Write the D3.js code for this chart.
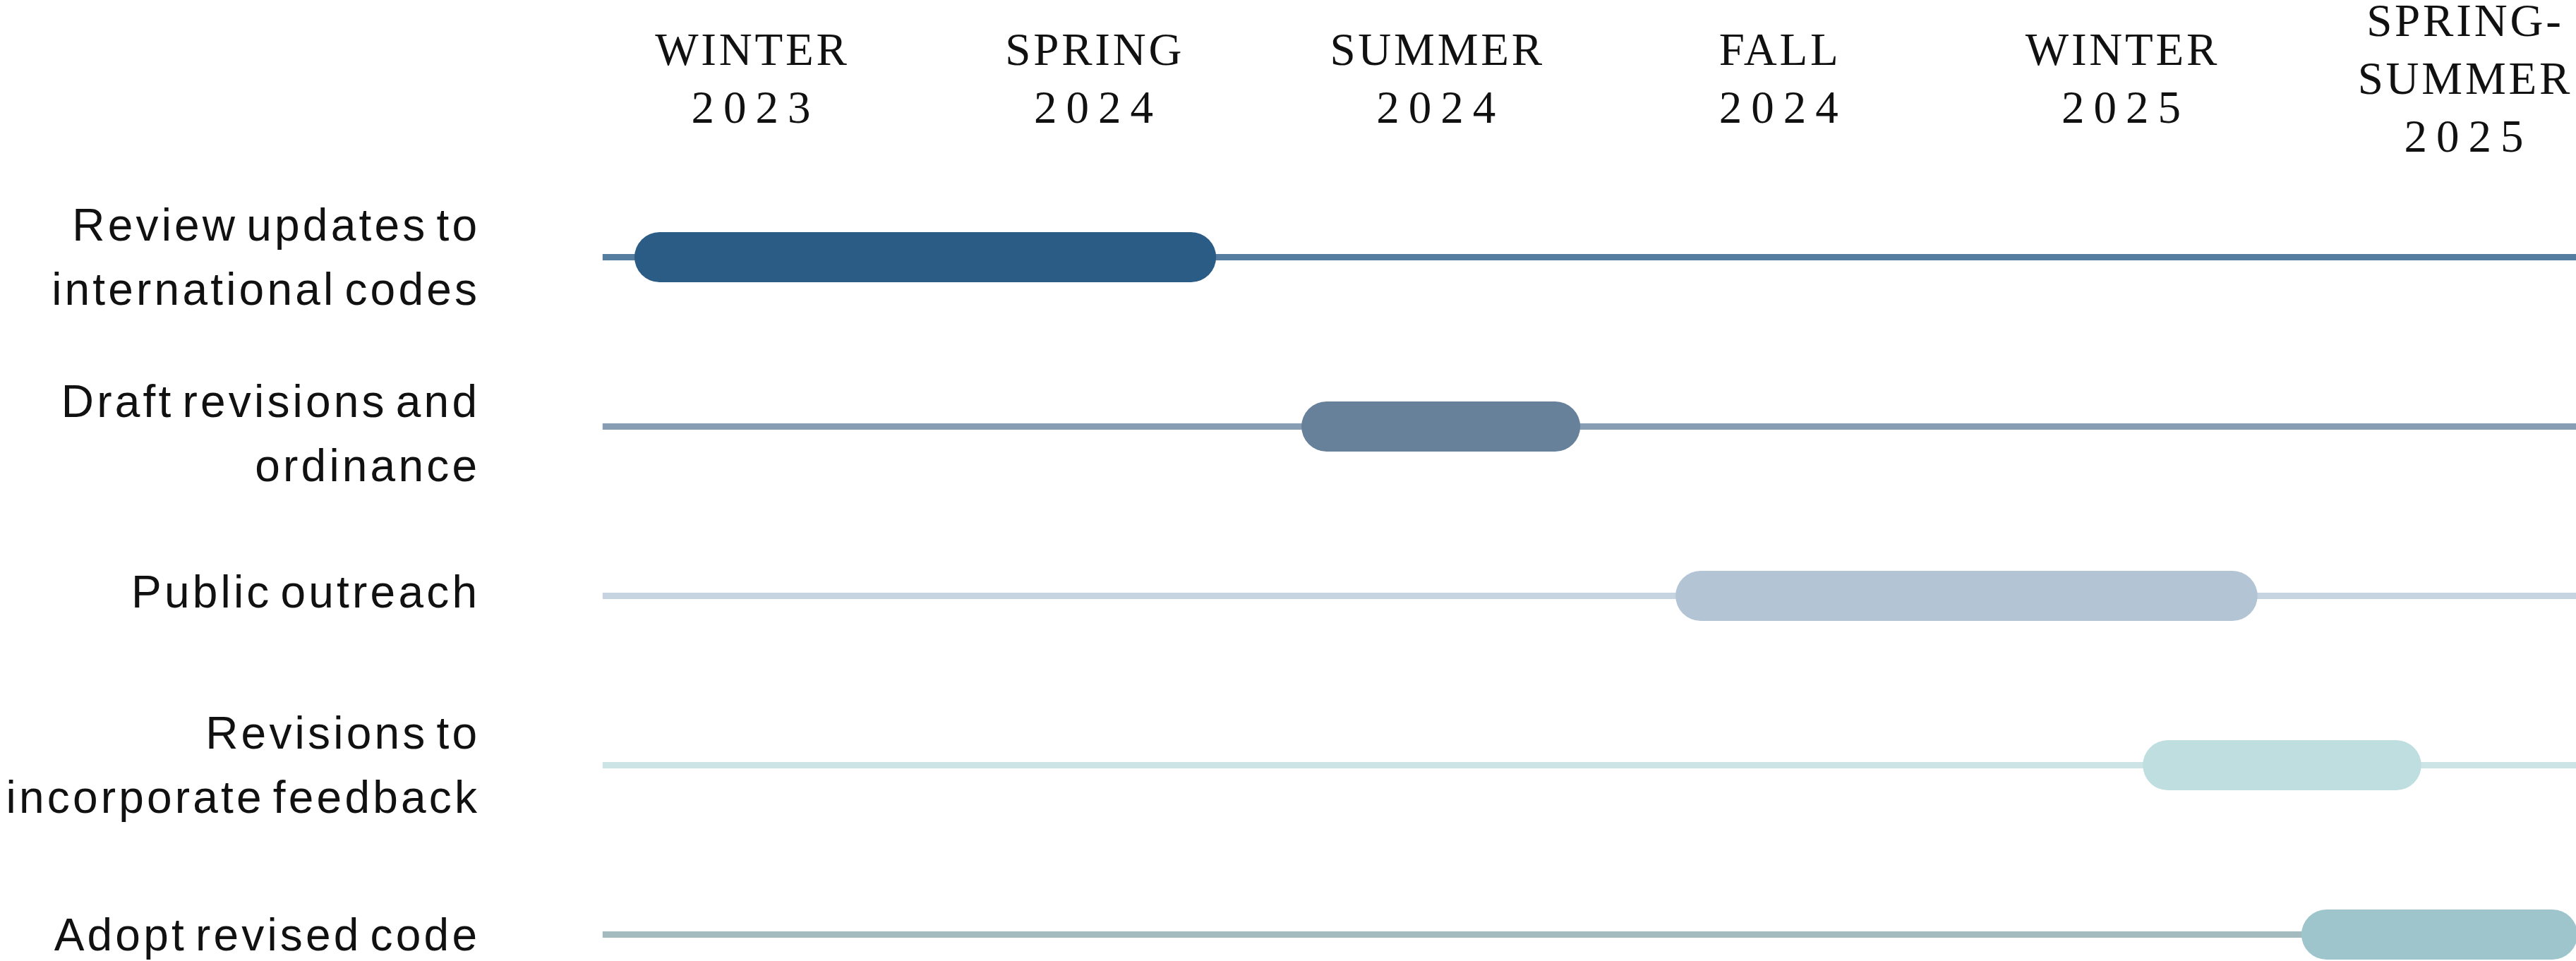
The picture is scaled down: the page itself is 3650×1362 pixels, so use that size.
<!DOCTYPE html>
<html>
<head>
<meta charset="utf-8">
<script src="https://cdn.jsdelivr.net/npm/d3@7"></script>
<style>
  body { margin: 0; background: #fff; }
  svg { display: block; }
</style>
</head>
<body>
<svg id="chart"></svg>
<script>
// Season columns (header), each line is a separate row of text
const seasons = [
  ['WINTER', '2023'],
  ['SPRING', '2024'],
  ['SUMMER', '2024'],
  ['FALL', '2024'],
  ['WINTER', '2025'],
  ['SPRING-', 'SUMMER', '2025']
];

// Tasks, wrapped as in the picture
const tasks = [
  ['Review updates to', 'international codes'],
  ['Draft revisions and', 'ordinance'],
  ['Public outreach'],
  ['Revisions to', 'incorporate feedback'],
  ['Adopt revised code']
];

// Start / end of each bar, in season units (0 = Winter 2023 column)
const starts = [-0.34, 1.607, 2.699, 4.063, 4.526];
const ends = [1.358, 2.421, 4.398, 4.876, 5.332];

const barColors = ['#2b5c86', '#67819b', '#b3c5d5', '#bfdee0', '#9fc5cc'];
const lineColors = ['#557d9f', '#879db3', '#c6d3e0', '#cde4e6', '#a3babf'];

const width = 3650;
const height = 1362;
const lineStart = -0.433;
// small vertical nudges of the label blocks, as laid out in the original
const labelNudge = [0, 10, -6, 0, 0];

const svg = d3.select('#chart')
    .attr('width', width)
    .attr('height', height);

// x: season position, y: task rows
const x = d3.scaleLinear()
    .domain([0, 5])
    .range([1064, 3491]);

const y = d3.scalePoint()
    .domain(d3.range(tasks.length))
    .range([364.5, 1324.5]);

const barH = 71;

// Header
const head = svg.append('g')
    .attr('font-family', '"Liberation Serif", "Times New Roman", serif')
    .attr('font-size', 65)
    .attr('fill', '#111');

seasons.forEach((lines, i) => {
  lines.forEach((t, j) => {
    const isYear = /^\d+$/.test(t);
    const ls = isYear ? 13 : 3.8;
    head.append('text')
      .attr('x', x(i) + ls / 2)
      .attr('y', 133 + (j - (lines.length - 1) / 2) * 82)
      .attr('text-anchor', 'middle')
      .attr('letter-spacing', ls)
      .text(t);
  });
});

// Row lines
svg.append('g').selectAll('line')
  .data(tasks)
  .enter().append('line')
    .attr('x1', x(lineStart))
    .attr('x2', width)
    .attr('y1', (d, i) => y(i))
    .attr('y2', (d, i) => y(i))
    .attr('stroke', (d, i) => lineColors[i])
    .attr('stroke-width', 9);

// Bars
svg.append('g').selectAll('rect')
  .data(tasks)
  .enter().append('rect')
    .attr('x', (d, i) => x(starts[i]))
    .attr('y', (d, i) => y(i) - barH / 2)
    .attr('width', (d, i) => x(ends[i]) - x(starts[i]))
    .attr('height', barH)
    .attr('rx', barH / 2)
    .attr('ry', barH / 2)
    .attr('fill', (d, i) => barColors[i]);

// Task labels
const ls = 4.2;
const labels = svg.append('g')
    .attr('font-family', '"Liberation Sans", Arial, sans-serif')
    .attr('font-size', 64)
    .attr('fill', '#111')
    .attr('letter-spacing', ls)
    .attr('word-spacing', -10);

tasks.forEach((lines, i) => {
  lines.forEach((t, j) => {
    labels.append('text')
      .attr('x', 676 + ls)
      .attr('y', y(i) + 22 + labelNudge[i] + (j - (lines.length - 1) / 2) * 91)
      .attr('text-anchor', 'end')
      .text(t);
  });
});
</script>
</body>
</html>
